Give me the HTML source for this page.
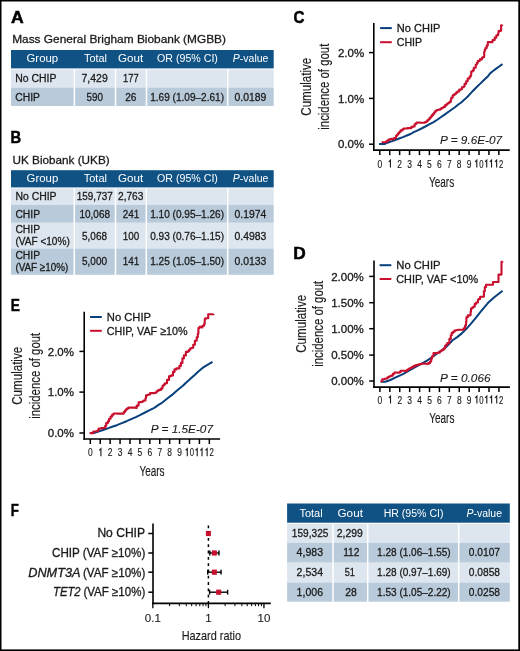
<!DOCTYPE html>
<html><head><meta charset="utf-8"><title>Figure</title>
<style>html,body{margin:0;padding:0;background:#fff;overflow:hidden;width:520px;height:651px;}svg{display:block;will-change:transform;}</style></head>
<body><svg width="520" height="651" viewBox="0 0 520 651" font-family='"Liberation Sans", sans-serif' fill="#1a1a1a">
<rect x="0" y="0" width="520" height="651" fill="#fff"/>
<rect x="0.00" y="0.00" width="520.00" height="1.50" fill="#000"/>
<rect x="0.00" y="0.00" width="1.50" height="651.00" fill="#000"/>
<rect x="518.30" y="0.00" width="1.70" height="651.00" fill="#000"/>
<rect x="0.00" y="649.40" width="520.00" height="1.60" fill="#000"/>
<text x="11.11" y="23.15" font-size="16.3" font-weight="bold" fill="#000" stroke="#000" stroke-width="0.5" textLength="12.70" lengthAdjust="spacingAndGlyphs">A</text>
<text x="10.46" y="143.25" font-size="16.3" font-weight="bold" fill="#000" stroke="#000" stroke-width="0.5" textLength="10.66" lengthAdjust="spacingAndGlyphs">B</text>
<text x="293.43" y="22.55" font-size="16.3" font-weight="bold" fill="#000" stroke="#000" stroke-width="0.5" textLength="10.94" lengthAdjust="spacingAndGlyphs">C</text>
<text x="293.39" y="259.35" font-size="16.3" font-weight="bold" fill="#000" stroke="#000" stroke-width="0.5" textLength="12.48" lengthAdjust="spacingAndGlyphs">D</text>
<text x="10.63" y="311.35" font-size="16.3" font-weight="bold" fill="#000" stroke="#000" stroke-width="0.5" textLength="9.15" lengthAdjust="spacingAndGlyphs">E</text>
<text x="10.67" y="516.05" font-size="16.3" font-weight="bold" fill="#000" stroke="#000" stroke-width="0.5" textLength="8.07" lengthAdjust="spacingAndGlyphs">F</text>
<text x="12.20" y="42.60" font-size="11.8" textLength="213.80" lengthAdjust="spacingAndGlyphs" stroke="#1a1a1a" stroke-width="0.3">Mass General Brigham Biobank (MGBB)</text>
<text x="12.60" y="163.90" font-size="11.8" textLength="97.00" lengthAdjust="spacingAndGlyphs" stroke="#1a1a1a" stroke-width="0.3">UK Biobank (UKB)</text>
<rect x="11.00" y="50.00" width="262.70" height="18.40" fill="#105284"/>
<rect x="11.00" y="69.50" width="62.65" height="18.10" fill="#dde5ee"/>
<rect x="75.15" y="69.50" width="39.60" height="18.10" fill="#dde5ee"/>
<rect x="116.25" y="69.50" width="29.50" height="18.10" fill="#dde5ee"/>
<rect x="147.25" y="69.50" width="79.70" height="18.10" fill="#dde5ee"/>
<rect x="228.45" y="69.50" width="45.25" height="18.10" fill="#dde5ee"/>
<rect x="11.00" y="87.60" width="62.65" height="18.40" fill="#b9cbdb"/>
<rect x="75.15" y="87.60" width="39.60" height="18.40" fill="#b9cbdb"/>
<rect x="116.25" y="87.60" width="29.50" height="18.40" fill="#b9cbdb"/>
<rect x="147.25" y="87.60" width="79.70" height="18.40" fill="#b9cbdb"/>
<rect x="228.45" y="87.60" width="45.25" height="18.40" fill="#b9cbdb"/>
<text x="26.50" y="62.30" font-size="11.7" textLength="31.70" lengthAdjust="spacingAndGlyphs" fill="#fff">Group</text>
<text x="84.00" y="62.30" font-size="11.7" textLength="22.90" lengthAdjust="spacingAndGlyphs" fill="#fff">Total</text>
<text x="118.00" y="62.30" font-size="11.7" textLength="25.20" lengthAdjust="spacingAndGlyphs" fill="#fff">Gout</text>
<text x="157.00" y="62.30" font-size="11.7" textLength="60.90" lengthAdjust="spacingAndGlyphs" fill="#fff">OR (95% CI)</text>
<text x="232.80" y="62.30" font-size="11.7" fill="#fff" textLength="35.60" lengthAdjust="spacingAndGlyphs"><tspan font-style="italic">P</tspan>-value</text>
<text x="15.30" y="82.30" font-size="11.7" textLength="41.20" lengthAdjust="spacingAndGlyphs" stroke="#1a1a1a" stroke-width="0.3">No CHIP</text>
<text x="81.50" y="82.30" font-size="11.7" textLength="26.20" lengthAdjust="spacingAndGlyphs" stroke="#1a1a1a" stroke-width="0.3">7,429</text>
<text x="123.10" y="82.30" font-size="11.7" textLength="15.50" lengthAdjust="spacingAndGlyphs" stroke="#1a1a1a" stroke-width="0.3">177</text>
<text x="15.30" y="100.90" font-size="11.7" textLength="24.70" lengthAdjust="spacingAndGlyphs" stroke="#1a1a1a" stroke-width="0.3">CHIP</text>
<text x="86.60" y="100.90" font-size="11.7" textLength="16.50" lengthAdjust="spacingAndGlyphs" stroke="#1a1a1a" stroke-width="0.3">590</text>
<text x="125.20" y="100.90" font-size="11.7" textLength="11.20" lengthAdjust="spacingAndGlyphs" stroke="#1a1a1a" stroke-width="0.3">26</text>
<text x="150.20" y="100.90" font-size="11.7" textLength="73.80" lengthAdjust="spacingAndGlyphs" stroke="#1a1a1a" stroke-width="0.3">1.69 (1.09–2.61)</text>
<text x="234.50" y="100.90" font-size="11.7" textLength="31.80" lengthAdjust="spacingAndGlyphs" stroke="#1a1a1a" stroke-width="0.3">0.0189</text>
<rect x="11.00" y="170.20" width="262.70" height="17.20" fill="#105284"/>
<rect x="11.00" y="188.40" width="62.55" height="16.40" fill="#dde5ee"/>
<rect x="75.05" y="188.40" width="39.70" height="16.40" fill="#dde5ee"/>
<rect x="116.25" y="188.40" width="29.30" height="16.40" fill="#dde5ee"/>
<rect x="147.05" y="188.40" width="79.90" height="16.40" fill="#dde5ee"/>
<rect x="228.45" y="188.40" width="45.25" height="16.40" fill="#dde5ee"/>
<rect x="11.00" y="204.80" width="62.55" height="18.00" fill="#b9cbdb"/>
<rect x="75.05" y="204.80" width="39.70" height="18.00" fill="#b9cbdb"/>
<rect x="116.25" y="204.80" width="29.30" height="18.00" fill="#b9cbdb"/>
<rect x="147.05" y="204.80" width="79.90" height="18.00" fill="#b9cbdb"/>
<rect x="228.45" y="204.80" width="45.25" height="18.00" fill="#b9cbdb"/>
<rect x="11.00" y="222.80" width="62.55" height="25.80" fill="#dde5ee"/>
<rect x="75.05" y="222.80" width="39.70" height="25.80" fill="#dde5ee"/>
<rect x="116.25" y="222.80" width="29.30" height="25.80" fill="#dde5ee"/>
<rect x="147.05" y="222.80" width="79.90" height="25.80" fill="#dde5ee"/>
<rect x="228.45" y="222.80" width="45.25" height="25.80" fill="#dde5ee"/>
<rect x="11.00" y="248.60" width="62.55" height="26.20" fill="#b9cbdb"/>
<rect x="75.05" y="248.60" width="39.70" height="26.20" fill="#b9cbdb"/>
<rect x="116.25" y="248.60" width="29.30" height="26.20" fill="#b9cbdb"/>
<rect x="147.05" y="248.60" width="79.90" height="26.20" fill="#b9cbdb"/>
<rect x="228.45" y="248.60" width="45.25" height="26.20" fill="#b9cbdb"/>
<text x="26.60" y="181.80" font-size="11.7" textLength="31.70" lengthAdjust="spacingAndGlyphs" fill="#fff">Group</text>
<text x="83.70" y="181.80" font-size="11.7" textLength="23.30" lengthAdjust="spacingAndGlyphs" fill="#fff">Total</text>
<text x="118.00" y="181.80" font-size="11.7" textLength="25.20" lengthAdjust="spacingAndGlyphs" fill="#fff">Gout</text>
<text x="157.00" y="181.80" font-size="11.7" textLength="60.90" lengthAdjust="spacingAndGlyphs" fill="#fff">OR (95% CI)</text>
<text x="232.80" y="181.80" font-size="11.7" fill="#fff" textLength="35.60" lengthAdjust="spacingAndGlyphs"><tspan font-style="italic">P</tspan>-value</text>
<text x="15.40" y="199.90" font-size="11.7" textLength="41.20" lengthAdjust="spacingAndGlyphs" stroke="#1a1a1a" stroke-width="0.3">No CHIP</text>
<text x="76.80" y="199.90" font-size="11.7" textLength="35.90" lengthAdjust="spacingAndGlyphs" stroke="#1a1a1a" stroke-width="0.3">159,737</text>
<text x="118.00" y="199.90" font-size="11.7" textLength="25.40" lengthAdjust="spacingAndGlyphs" stroke="#1a1a1a" stroke-width="0.3">2,763</text>
<text x="15.40" y="217.90" font-size="11.7" textLength="24.70" lengthAdjust="spacingAndGlyphs" stroke="#1a1a1a" stroke-width="0.3">CHIP</text>
<text x="79.50" y="217.90" font-size="11.7" textLength="30.50" lengthAdjust="spacingAndGlyphs" stroke="#1a1a1a" stroke-width="0.3">10,068</text>
<text x="122.70" y="217.90" font-size="11.7" textLength="16.50" lengthAdjust="spacingAndGlyphs" stroke="#1a1a1a" stroke-width="0.3">241</text>
<text x="150.20" y="217.90" font-size="11.7" textLength="73.80" lengthAdjust="spacingAndGlyphs" stroke="#1a1a1a" stroke-width="0.3">1.10 (0.95–1.26)</text>
<text x="234.50" y="217.90" font-size="11.7" textLength="31.80" lengthAdjust="spacingAndGlyphs" stroke="#1a1a1a" stroke-width="0.3">0.1974</text>
<text x="15.40" y="233.20" font-size="11.7" textLength="24.70" lengthAdjust="spacingAndGlyphs" stroke="#1a1a1a" stroke-width="0.3">CHIP</text>
<text x="15.40" y="245.20" font-size="11.7" textLength="54.40" lengthAdjust="spacingAndGlyphs" stroke="#1a1a1a" stroke-width="0.3">(VAF &lt;10%)</text>
<text x="82.00" y="239.80" font-size="11.7" textLength="25.00" lengthAdjust="spacingAndGlyphs" stroke="#1a1a1a" stroke-width="0.3">5,068</text>
<text x="122.70" y="239.80" font-size="11.7" textLength="16.50" lengthAdjust="spacingAndGlyphs" stroke="#1a1a1a" stroke-width="0.3">100</text>
<text x="150.20" y="239.80" font-size="11.7" textLength="73.80" lengthAdjust="spacingAndGlyphs" stroke="#1a1a1a" stroke-width="0.3">0.93 (0.76–1.15)</text>
<text x="234.50" y="239.80" font-size="11.7" textLength="31.80" lengthAdjust="spacingAndGlyphs" stroke="#1a1a1a" stroke-width="0.3">0.4983</text>
<text x="15.40" y="258.90" font-size="11.7" textLength="24.70" lengthAdjust="spacingAndGlyphs" stroke="#1a1a1a" stroke-width="0.3">CHIP</text>
<text x="15.40" y="270.90" font-size="11.7" textLength="52.90" lengthAdjust="spacingAndGlyphs" stroke="#1a1a1a" stroke-width="0.3">(VAF ≥10%)</text>
<text x="82.00" y="265.20" font-size="11.7" textLength="25.00" lengthAdjust="spacingAndGlyphs" stroke="#1a1a1a" stroke-width="0.3">5,000</text>
<text x="122.70" y="265.20" font-size="11.7" textLength="16.50" lengthAdjust="spacingAndGlyphs" stroke="#1a1a1a" stroke-width="0.3">141</text>
<text x="150.20" y="265.20" font-size="11.7" textLength="73.80" lengthAdjust="spacingAndGlyphs" stroke="#1a1a1a" stroke-width="0.3">1.25 (1.05–1.50)</text>
<text x="234.50" y="265.20" font-size="11.7" textLength="31.80" lengthAdjust="spacingAndGlyphs" stroke="#1a1a1a" stroke-width="0.3">0.0133</text>
<rect x="287.10" y="503.50" width="222.70" height="19.20" fill="#105284"/>
<rect x="287.10" y="524.00" width="45.15" height="18.80" fill="#dde5ee"/>
<rect x="333.75" y="524.00" width="33.20" height="18.80" fill="#dde5ee"/>
<rect x="368.45" y="524.00" width="89.50" height="18.80" fill="#dde5ee"/>
<rect x="459.45" y="524.00" width="50.35" height="18.80" fill="#dde5ee"/>
<rect x="287.10" y="542.80" width="45.15" height="19.90" fill="#b9cbdb"/>
<rect x="333.75" y="542.80" width="33.20" height="19.90" fill="#b9cbdb"/>
<rect x="368.45" y="542.80" width="89.50" height="19.90" fill="#b9cbdb"/>
<rect x="459.45" y="542.80" width="50.35" height="19.90" fill="#b9cbdb"/>
<rect x="287.10" y="562.70" width="45.15" height="19.80" fill="#dde5ee"/>
<rect x="333.75" y="562.70" width="33.20" height="19.80" fill="#dde5ee"/>
<rect x="368.45" y="562.70" width="89.50" height="19.80" fill="#dde5ee"/>
<rect x="459.45" y="562.70" width="50.35" height="19.80" fill="#dde5ee"/>
<rect x="287.10" y="582.50" width="45.15" height="19.20" fill="#b9cbdb"/>
<rect x="333.75" y="582.50" width="33.20" height="19.20" fill="#b9cbdb"/>
<rect x="368.45" y="582.50" width="89.50" height="19.20" fill="#b9cbdb"/>
<rect x="459.45" y="582.50" width="50.35" height="19.20" fill="#b9cbdb"/>
<text x="299.40" y="516.90" font-size="11.7" textLength="23.30" lengthAdjust="spacingAndGlyphs" fill="#fff">Total</text>
<text x="337.50" y="516.90" font-size="11.7" textLength="25.40" lengthAdjust="spacingAndGlyphs" fill="#fff">Gout</text>
<text x="383.70" y="516.90" font-size="11.7" textLength="59.80" lengthAdjust="spacingAndGlyphs" fill="#fff">HR (95% CI)</text>
<text x="466.50" y="516.90" font-size="11.7" fill="#fff" textLength="35.50" lengthAdjust="spacingAndGlyphs"><tspan font-style="italic">P</tspan>-value</text>
<text x="291.80" y="536.80" font-size="11.7" textLength="36.60" lengthAdjust="spacingAndGlyphs" stroke="#1a1a1a" stroke-width="0.3">159,325</text>
<text x="336.80" y="536.80" font-size="11.7" textLength="26.10" lengthAdjust="spacingAndGlyphs" stroke="#1a1a1a" stroke-width="0.3">2,299</text>
<text x="296.60" y="556.30" font-size="11.7" textLength="26.40" lengthAdjust="spacingAndGlyphs" stroke="#1a1a1a" stroke-width="0.3">4,983</text>
<text x="343.20" y="556.30" font-size="11.7" textLength="16.30" lengthAdjust="spacingAndGlyphs" stroke="#1a1a1a" stroke-width="0.3">112</text>
<text x="377.10" y="556.30" font-size="11.7" textLength="73.60" lengthAdjust="spacingAndGlyphs" stroke="#1a1a1a" stroke-width="0.3">1.28 (1.06–1.55)</text>
<text x="468.80" y="556.30" font-size="11.7" textLength="31.20" lengthAdjust="spacingAndGlyphs" stroke="#1a1a1a" stroke-width="0.3">0.0107</text>
<text x="296.60" y="575.80" font-size="11.7" textLength="26.40" lengthAdjust="spacingAndGlyphs" stroke="#1a1a1a" stroke-width="0.3">2,534</text>
<text x="344.70" y="575.80" font-size="11.7" textLength="10.10" lengthAdjust="spacingAndGlyphs" stroke="#1a1a1a" stroke-width="0.3">51</text>
<text x="377.10" y="575.80" font-size="11.7" textLength="73.60" lengthAdjust="spacingAndGlyphs" stroke="#1a1a1a" stroke-width="0.3">1.28 (0.97–1.69)</text>
<text x="468.80" y="575.80" font-size="11.7" textLength="31.20" lengthAdjust="spacingAndGlyphs" stroke="#1a1a1a" stroke-width="0.3">0.0858</text>
<text x="296.60" y="595.90" font-size="11.7" textLength="26.40" lengthAdjust="spacingAndGlyphs" stroke="#1a1a1a" stroke-width="0.3">1,006</text>
<text x="345.30" y="595.90" font-size="11.7" textLength="11.60" lengthAdjust="spacingAndGlyphs" stroke="#1a1a1a" stroke-width="0.3">28</text>
<text x="377.10" y="595.90" font-size="11.7" textLength="73.60" lengthAdjust="spacingAndGlyphs" stroke="#1a1a1a" stroke-width="0.3">1.53 (1.05–2.22)</text>
<text x="468.80" y="595.90" font-size="11.7" textLength="31.20" lengthAdjust="spacingAndGlyphs" stroke="#1a1a1a" stroke-width="0.3">0.0258</text>
<polyline points="379.10,144.00 384.50,144.00 387.50,142.70 391.40,141.40 395.20,140.00 399.10,138.50 402.90,137.10 406.80,135.50 410.60,134.00 413.80,132.10 417.70,130.40 421.50,128.50 425.40,126.50 429.20,124.40 433.10,122.30 436.90,120.00 440.80,117.30 444.60,114.60 450.00,110.80 455.00,107.20 458.00,104.80 461.50,102.20 465.00,99.10 468.50,95.70 472.00,91.80 476.00,87.80 480.00,83.90 485.00,79.00 488.00,76.20 490.30,73.20 493.00,71.00 496.20,68.60 499.50,66.30 502.50,64.10" fill="none" stroke="#063f7c" stroke-width="2.0" stroke-linejoin="round" stroke-linecap="butt"/>
<polyline points="381.60,142.20 385.20,142.20 385.20,142.30 386.35,142.30 386.35,141.35 387.50,141.35 387.50,140.40 389.10,140.40 389.10,139.40 391.00,139.40 391.00,138.80 392.90,138.80 392.90,139.10 394.10,139.10 394.10,138.10 396.00,138.10 396.00,135.80 397.15,135.80 397.15,134.45 398.30,134.45 398.30,133.10 399.45,133.10 399.45,131.75 400.60,131.75 400.60,130.40 402.50,130.40 402.50,129.20 403.70,129.20 403.70,128.50 406.00,128.50 406.00,128.50 407.50,128.50 407.50,128.10 409.80,128.10 409.80,128.10 411.40,128.10 411.40,126.90 412.90,126.90 412.90,126.50 414.60,126.50 414.60,124.20 415.75,124.20 415.75,123.35 416.90,123.35 416.90,122.50 420.00,122.50 420.00,122.70 423.80,122.70 423.80,122.70 425.00,122.70 425.00,122.10 426.20,122.10 426.20,121.50 427.35,121.50 427.35,120.35 428.50,120.35 428.50,119.20 429.65,119.20 429.65,117.85 430.80,117.85 430.80,116.50 431.95,116.50 431.95,115.15 433.10,115.15 433.10,113.80 434.25,113.80 434.25,112.30 435.40,112.30 435.40,110.80 436.90,110.80 436.90,110.00 438.05,110.00 438.05,109.80 439.20,109.80 439.20,109.60 440.35,109.60 440.35,108.85 441.50,108.85 441.50,108.10 442.65,108.10 442.65,107.50 443.80,107.50 443.80,106.90 445.00,106.90 445.00,105.40 446.15,105.40 446.15,104.45 447.30,104.45 447.30,103.50 448.45,103.50 448.45,102.70 449.60,102.70 449.60,101.90 450.80,101.90 450.80,100.00 451.20,100.00 451.20,97.70 452.70,97.70 452.70,95.40 453.85,95.40 453.85,94.60 455.00,94.60 455.00,93.80 456.15,93.80 456.15,92.65 457.30,92.65 457.30,91.50 459.20,91.50 459.20,89.60 461.20,89.60 461.20,89.20 461.90,89.20 461.90,87.30 463.80,87.30 463.80,86.20 464.60,86.20 464.60,83.80 466.20,83.80 466.20,81.20 467.70,81.20 467.70,78.50 469.60,78.50 469.60,76.50 470.80,76.50 470.80,75.00 471.20,75.00 471.20,71.50 472.70,71.50 472.70,70.40 473.80,70.40 473.80,67.70 475.70,67.70 475.70,64.80 476.75,64.80 476.75,62.90 477.80,62.90 477.80,61.00 479.80,61.00 479.80,59.40 481.90,59.40 481.90,57.70 482.95,57.70 482.95,57.15 484.00,57.15 484.00,56.60 484.20,56.60 484.20,51.80 484.70,51.80 484.70,49.70 485.40,49.70 485.40,48.00 486.70,48.00 486.70,45.60 487.80,45.60 487.80,42.10 489.90,42.10 489.90,42.10 492.30,42.10 492.30,42.00 492.60,42.00 492.60,40.00 494.70,40.00 494.70,37.60 496.40,37.60 496.40,35.20 498.20,35.20 498.20,33.50 498.50,33.50 498.50,31.10 499.70,31.10 499.70,30.90 500.90,30.90 500.90,30.70 501.10,30.70 501.10,25.20 502.20,25.20 502.20,24.80" fill="none" stroke="#c8102e" stroke-width="2.1" stroke-linejoin="round" stroke-linecap="butt"/>
<line x1="373.80" y1="23.00" x2="373.80" y2="150.90" stroke="#000" stroke-width="1.6"/>
<line x1="373.00" y1="150.10" x2="509.70" y2="150.10" stroke="#000" stroke-width="1.6"/>
<line x1="369.00" y1="52.60" x2="373.80" y2="52.60" stroke="#000" stroke-width="1.5"/>
<text x="364.20" y="56.70" font-size="11.5" text-anchor="end" stroke="#1a1a1a" stroke-width="0.3">2.0%</text>
<line x1="369.00" y1="98.40" x2="373.80" y2="98.40" stroke="#000" stroke-width="1.5"/>
<text x="364.20" y="102.50" font-size="11.5" text-anchor="end" stroke="#1a1a1a" stroke-width="0.3">1.0%</text>
<line x1="369.00" y1="144.20" x2="373.80" y2="144.20" stroke="#000" stroke-width="1.5"/>
<text x="364.20" y="148.30" font-size="11.5" text-anchor="end" stroke="#1a1a1a" stroke-width="0.3">0.0%</text>
<line x1="379.80" y1="150.10" x2="379.80" y2="155.10" stroke="#000" stroke-width="1.5"/>
<text x="377.45" y="167.60" font-size="10.4" textLength="4.70" lengthAdjust="spacingAndGlyphs" stroke="#1a1a1a" stroke-width="0.15">0</text>
<line x1="389.72" y1="150.10" x2="389.72" y2="155.10" stroke="#000" stroke-width="1.5"/>
<path d="M388.72,161.80 L390.42,160.10 L390.42,167.60" fill="none" stroke="#1a1a1a" stroke-width="1.1" stroke-linejoin="miter"/>
<line x1="399.64" y1="150.10" x2="399.64" y2="155.10" stroke="#000" stroke-width="1.5"/>
<text x="397.29" y="167.60" font-size="10.4" textLength="4.70" lengthAdjust="spacingAndGlyphs" stroke="#1a1a1a" stroke-width="0.15">2</text>
<line x1="409.56" y1="150.10" x2="409.56" y2="155.10" stroke="#000" stroke-width="1.5"/>
<text x="407.21" y="167.60" font-size="10.4" textLength="4.70" lengthAdjust="spacingAndGlyphs" stroke="#1a1a1a" stroke-width="0.15">3</text>
<line x1="419.48" y1="150.10" x2="419.48" y2="155.10" stroke="#000" stroke-width="1.5"/>
<text x="417.13" y="167.60" font-size="10.4" textLength="4.70" lengthAdjust="spacingAndGlyphs" stroke="#1a1a1a" stroke-width="0.15">4</text>
<line x1="429.40" y1="150.10" x2="429.40" y2="155.10" stroke="#000" stroke-width="1.5"/>
<text x="427.05" y="167.60" font-size="10.4" textLength="4.70" lengthAdjust="spacingAndGlyphs" stroke="#1a1a1a" stroke-width="0.15">5</text>
<line x1="439.32" y1="150.10" x2="439.32" y2="155.10" stroke="#000" stroke-width="1.5"/>
<text x="436.97" y="167.60" font-size="10.4" textLength="4.70" lengthAdjust="spacingAndGlyphs" stroke="#1a1a1a" stroke-width="0.15">6</text>
<line x1="449.24" y1="150.10" x2="449.24" y2="155.10" stroke="#000" stroke-width="1.5"/>
<text x="446.89" y="167.60" font-size="10.4" textLength="4.70" lengthAdjust="spacingAndGlyphs" stroke="#1a1a1a" stroke-width="0.15">7</text>
<line x1="459.16" y1="150.10" x2="459.16" y2="155.10" stroke="#000" stroke-width="1.5"/>
<text x="456.81" y="167.60" font-size="10.4" textLength="4.70" lengthAdjust="spacingAndGlyphs" stroke="#1a1a1a" stroke-width="0.15">8</text>
<line x1="469.08" y1="150.10" x2="469.08" y2="155.10" stroke="#000" stroke-width="1.5"/>
<text x="466.73" y="167.60" font-size="10.4" textLength="4.70" lengthAdjust="spacingAndGlyphs" stroke="#1a1a1a" stroke-width="0.15">9</text>
<line x1="479.00" y1="150.10" x2="479.00" y2="155.10" stroke="#000" stroke-width="1.5"/>
<path d="M475.10,161.80 L476.80,160.10 L476.80,167.60" fill="none" stroke="#1a1a1a" stroke-width="1.1" stroke-linejoin="miter"/>
<text x="479.15" y="167.60" font-size="10.4" textLength="4.30" lengthAdjust="spacingAndGlyphs" stroke="#1a1a1a" stroke-width="0.15">0</text>
<line x1="488.92" y1="150.10" x2="488.92" y2="155.10" stroke="#000" stroke-width="1.5"/>
<path d="M485.02,161.80 L486.72,160.10 L486.72,167.60" fill="none" stroke="#1a1a1a" stroke-width="1.1" stroke-linejoin="miter"/>
<path d="M489.82,161.80 L491.52,160.10 L491.52,167.60" fill="none" stroke="#1a1a1a" stroke-width="1.1" stroke-linejoin="miter"/>
<line x1="498.84" y1="150.10" x2="498.84" y2="155.10" stroke="#000" stroke-width="1.5"/>
<path d="M494.94,161.80 L496.64,160.10 L496.64,167.60" fill="none" stroke="#1a1a1a" stroke-width="1.1" stroke-linejoin="miter"/>
<text x="498.99" y="167.60" font-size="10.4" textLength="4.30" lengthAdjust="spacingAndGlyphs" stroke="#1a1a1a" stroke-width="0.15">2</text>
<text x="429.00" y="186.90" font-size="14" textLength="25.20" lengthAdjust="spacingAndGlyphs" stroke="#1a1a1a" stroke-width="0.15">Years</text>
<text transform="translate(311.40,86.70) rotate(-90)" font-size="14" text-anchor="middle" textLength="58" lengthAdjust="spacingAndGlyphs" fill="#1a1a1a" stroke="#1a1a1a" stroke-width="0.15">Cumulative</text>
<text transform="translate(328.80,86.70) rotate(-90)" font-size="14" text-anchor="middle" textLength="86" lengthAdjust="spacingAndGlyphs" fill="#1a1a1a" stroke="#1a1a1a" stroke-width="0.15">incidence of gout</text>
<line x1="380.10" y1="28.10" x2="391.80" y2="28.10" stroke="#063f7c" stroke-width="2.0"/>
<line x1="380.10" y1="42.20" x2="391.80" y2="42.20" stroke="#c8102e" stroke-width="2.0"/>
<text x="396.80" y="32.10" font-size="11.2" textLength="43.50" lengthAdjust="spacingAndGlyphs" stroke="#1a1a1a" stroke-width="0.3">No CHIP</text>
<text x="396.80" y="46.30" font-size="11.2" textLength="25.30" lengthAdjust="spacingAndGlyphs" stroke="#1a1a1a" stroke-width="0.3">CHIP</text>
<text x="440.00" y="143.60" font-size="11.3" textLength="62.10" lengthAdjust="spacingAndGlyphs" font-style="italic" stroke="#1a1a1a" stroke-width="0.1">P = 9.6E-07</text>
<polyline points="380.60,381.80 385.20,381.80 388.30,380.80 391.40,379.50 395.20,377.70 399.10,375.90 402.90,374.10 406.80,371.90 410.60,369.60 415.20,367.10 419.70,364.60 423.50,362.70 427.40,360.40 431.20,357.70 435.10,355.00 438.90,352.30 442.80,349.60 446.60,346.50 452.60,340.30 457.20,337.10 461.80,333.40 466.40,328.80 471.00,323.70 475.60,318.20 480.30,312.20 484.90,306.70 488.10,302.80 494.90,296.80 502.60,290.80" fill="none" stroke="#063f7c" stroke-width="2.0" stroke-linejoin="round" stroke-linecap="butt"/>
<polyline points="380.60,381.20 382.20,381.20 382.20,379.20 384.50,379.20 384.50,378.80 386.00,378.80 386.00,378.50 387.50,378.50 387.50,377.30 389.10,377.30 389.10,376.50 390.25,376.50 390.25,376.05 391.40,376.05 391.40,375.60 392.90,375.60 392.90,373.80 394.50,373.80 394.50,372.50 397.50,372.50 397.50,372.70 399.10,372.70 399.10,372.30 400.60,372.30 400.60,370.80 402.20,370.80 402.20,370.80 405.20,370.80 405.20,371.20 406.80,371.20 406.80,370.00 407.95,370.00 407.95,369.25 409.10,369.25 409.10,368.50 410.65,368.50 410.65,367.70 412.20,367.70 412.20,366.90 413.65,366.90 413.65,366.15 415.10,366.15 415.10,365.40 416.65,365.40 416.65,364.95 418.20,364.95 418.20,364.50 419.70,364.50 419.70,364.15 421.20,364.15 421.20,363.80 424.30,363.80 424.30,363.50 425.85,363.50 425.85,363.75 427.40,363.75 427.40,364.00 428.50,364.00 428.50,363.10 430.10,363.10 430.10,361.50 431.20,361.50 431.20,358.80 432.00,358.80 432.00,356.20 433.50,356.20 433.50,353.10 435.80,353.10 435.80,353.10 437.00,353.10 437.00,352.90 438.20,352.90 438.20,352.70 439.70,352.70 439.70,351.50 440.85,351.50 440.85,350.75 442.00,350.75 442.00,350.00 443.50,350.00 443.50,348.50 445.10,348.50 445.10,345.80 446.25,345.80 446.25,344.45 447.40,344.45 447.40,343.10 449.40,343.10 449.40,338.90 450.80,338.90 450.80,335.20 451.70,335.20 451.70,332.90 453.10,332.90 453.10,331.75 454.50,331.75 454.50,330.60 455.70,330.60 455.70,330.30 456.90,330.30 456.90,330.00 458.10,330.00 458.10,329.70 461.80,329.70 461.80,329.70 463.70,329.70 463.70,328.30 465.10,328.30 465.10,325.60 466.00,325.60 466.00,321.90 466.40,321.90 466.40,317.30 467.80,317.30 467.80,315.40 470.10,315.40 470.10,315.00 470.60,315.00 470.60,311.70 471.00,311.70 471.00,308.50 472.15,308.50 472.15,307.60 473.30,307.60 473.30,306.70 474.70,306.70 474.70,303.90 476.10,303.90 476.10,302.50 478.00,302.50 478.00,300.20 478.40,300.20 478.40,299.00 480.10,299.00 480.10,296.80 483.90,296.80 483.90,296.80 483.90,296.80 483.90,291.30 484.80,291.30 484.80,287.10 486.00,287.10 486.00,284.80 492.80,284.80 492.80,284.80 493.00,284.80 493.00,282.00 498.30,282.00 498.30,281.90 498.50,281.90 498.50,274.60 501.20,274.60 501.20,274.40 501.50,274.40 501.50,261.80 502.60,261.80 502.60,261.60" fill="none" stroke="#c8102e" stroke-width="2.1" stroke-linejoin="round" stroke-linecap="butt"/>
<line x1="374.00" y1="260.60" x2="374.00" y2="387.90" stroke="#000" stroke-width="1.6"/>
<line x1="373.20" y1="387.10" x2="509.90" y2="387.10" stroke="#000" stroke-width="1.6"/>
<line x1="369.20" y1="276.40" x2="374.00" y2="276.40" stroke="#000" stroke-width="1.5"/>
<text x="363.80" y="280.50" font-size="11.5" text-anchor="end" stroke="#1a1a1a" stroke-width="0.3">2.00%</text>
<line x1="369.20" y1="302.70" x2="374.00" y2="302.70" stroke="#000" stroke-width="1.5"/>
<text x="363.80" y="306.80" font-size="11.5" text-anchor="end" stroke="#1a1a1a" stroke-width="0.3">1.50%</text>
<line x1="369.20" y1="328.70" x2="374.00" y2="328.70" stroke="#000" stroke-width="1.5"/>
<text x="363.80" y="332.80" font-size="11.5" text-anchor="end" stroke="#1a1a1a" stroke-width="0.3">1.00%</text>
<line x1="369.20" y1="355.10" x2="374.00" y2="355.10" stroke="#000" stroke-width="1.5"/>
<text x="363.80" y="359.20" font-size="11.5" text-anchor="end" stroke="#1a1a1a" stroke-width="0.3">0.50%</text>
<line x1="369.20" y1="381.00" x2="374.00" y2="381.00" stroke="#000" stroke-width="1.5"/>
<text x="363.80" y="385.10" font-size="11.5" text-anchor="end" stroke="#1a1a1a" stroke-width="0.3">0.00%</text>
<line x1="379.90" y1="387.10" x2="379.90" y2="392.10" stroke="#000" stroke-width="1.5"/>
<text x="377.55" y="403.60" font-size="10.4" textLength="4.70" lengthAdjust="spacingAndGlyphs" stroke="#1a1a1a" stroke-width="0.15">0</text>
<line x1="389.82" y1="387.10" x2="389.82" y2="392.10" stroke="#000" stroke-width="1.5"/>
<path d="M388.82,397.80 L390.52,396.10 L390.52,403.60" fill="none" stroke="#1a1a1a" stroke-width="1.1" stroke-linejoin="miter"/>
<line x1="399.74" y1="387.10" x2="399.74" y2="392.10" stroke="#000" stroke-width="1.5"/>
<text x="397.39" y="403.60" font-size="10.4" textLength="4.70" lengthAdjust="spacingAndGlyphs" stroke="#1a1a1a" stroke-width="0.15">2</text>
<line x1="409.66" y1="387.10" x2="409.66" y2="392.10" stroke="#000" stroke-width="1.5"/>
<text x="407.31" y="403.60" font-size="10.4" textLength="4.70" lengthAdjust="spacingAndGlyphs" stroke="#1a1a1a" stroke-width="0.15">3</text>
<line x1="419.58" y1="387.10" x2="419.58" y2="392.10" stroke="#000" stroke-width="1.5"/>
<text x="417.23" y="403.60" font-size="10.4" textLength="4.70" lengthAdjust="spacingAndGlyphs" stroke="#1a1a1a" stroke-width="0.15">4</text>
<line x1="429.50" y1="387.10" x2="429.50" y2="392.10" stroke="#000" stroke-width="1.5"/>
<text x="427.15" y="403.60" font-size="10.4" textLength="4.70" lengthAdjust="spacingAndGlyphs" stroke="#1a1a1a" stroke-width="0.15">5</text>
<line x1="439.42" y1="387.10" x2="439.42" y2="392.10" stroke="#000" stroke-width="1.5"/>
<text x="437.07" y="403.60" font-size="10.4" textLength="4.70" lengthAdjust="spacingAndGlyphs" stroke="#1a1a1a" stroke-width="0.15">6</text>
<line x1="449.34" y1="387.10" x2="449.34" y2="392.10" stroke="#000" stroke-width="1.5"/>
<text x="446.99" y="403.60" font-size="10.4" textLength="4.70" lengthAdjust="spacingAndGlyphs" stroke="#1a1a1a" stroke-width="0.15">7</text>
<line x1="459.26" y1="387.10" x2="459.26" y2="392.10" stroke="#000" stroke-width="1.5"/>
<text x="456.91" y="403.60" font-size="10.4" textLength="4.70" lengthAdjust="spacingAndGlyphs" stroke="#1a1a1a" stroke-width="0.15">8</text>
<line x1="469.18" y1="387.10" x2="469.18" y2="392.10" stroke="#000" stroke-width="1.5"/>
<text x="466.83" y="403.60" font-size="10.4" textLength="4.70" lengthAdjust="spacingAndGlyphs" stroke="#1a1a1a" stroke-width="0.15">9</text>
<line x1="479.10" y1="387.10" x2="479.10" y2="392.10" stroke="#000" stroke-width="1.5"/>
<path d="M475.20,397.80 L476.90,396.10 L476.90,403.60" fill="none" stroke="#1a1a1a" stroke-width="1.1" stroke-linejoin="miter"/>
<text x="479.25" y="403.60" font-size="10.4" textLength="4.30" lengthAdjust="spacingAndGlyphs" stroke="#1a1a1a" stroke-width="0.15">0</text>
<line x1="489.02" y1="387.10" x2="489.02" y2="392.10" stroke="#000" stroke-width="1.5"/>
<path d="M485.12,397.80 L486.82,396.10 L486.82,403.60" fill="none" stroke="#1a1a1a" stroke-width="1.1" stroke-linejoin="miter"/>
<path d="M489.92,397.80 L491.62,396.10 L491.62,403.60" fill="none" stroke="#1a1a1a" stroke-width="1.1" stroke-linejoin="miter"/>
<line x1="498.94" y1="387.10" x2="498.94" y2="392.10" stroke="#000" stroke-width="1.5"/>
<path d="M495.04,397.80 L496.74,396.10 L496.74,403.60" fill="none" stroke="#1a1a1a" stroke-width="1.1" stroke-linejoin="miter"/>
<text x="499.09" y="403.60" font-size="10.4" textLength="4.30" lengthAdjust="spacingAndGlyphs" stroke="#1a1a1a" stroke-width="0.15">2</text>
<text x="429.20" y="423.10" font-size="14" textLength="25.20" lengthAdjust="spacingAndGlyphs" stroke="#1a1a1a" stroke-width="0.15">Years</text>
<text transform="translate(305.50,323.80) rotate(-90)" font-size="14" text-anchor="middle" textLength="58" lengthAdjust="spacingAndGlyphs" fill="#1a1a1a" stroke="#1a1a1a" stroke-width="0.15">Cumulative</text>
<text transform="translate(323.00,323.80) rotate(-90)" font-size="14" text-anchor="middle" textLength="86" lengthAdjust="spacingAndGlyphs" fill="#1a1a1a" stroke="#1a1a1a" stroke-width="0.15">incidence of gout</text>
<line x1="379.60" y1="265.20" x2="391.30" y2="265.20" stroke="#063f7c" stroke-width="2.0"/>
<line x1="379.60" y1="279.00" x2="391.30" y2="279.00" stroke="#c8102e" stroke-width="2.0"/>
<text x="396.30" y="269.20" font-size="11.2" textLength="44.20" lengthAdjust="spacingAndGlyphs" stroke="#1a1a1a" stroke-width="0.3">No CHIP</text>
<text x="396.30" y="283.10" font-size="11.2" textLength="81.80" lengthAdjust="spacingAndGlyphs" stroke="#1a1a1a" stroke-width="0.3">CHIP, VAF &lt;10%</text>
<text x="440.00" y="381.80" font-size="11.3" textLength="50.60" lengthAdjust="spacingAndGlyphs" font-style="italic" stroke="#1a1a1a" stroke-width="0.1">P = 0.066</text>
<polyline points="90.00,433.10 93.70,433.10 97.50,431.90 101.40,430.50 105.20,429.20 109.10,427.90 112.90,426.50 116.80,425.20 120.60,423.60 126.60,421.20 131.20,419.20 135.80,417.10 140.40,414.80 145.00,412.50 149.60,410.20 154.30,407.90 158.90,404.60 162.00,402.80 167.00,398.80 172.00,394.90 177.90,389.80 182.90,385.80 186.00,382.70 189.00,380.10 191.80,377.50 194.70,374.90 197.50,372.30 200.40,369.70 203.30,367.40 206.20,365.60 209.10,363.90 212.50,361.80" fill="none" stroke="#063f7c" stroke-width="2.0" stroke-linejoin="round" stroke-linecap="butt"/>
<polyline points="89.60,433.10 92.20,433.10 92.20,433.10 93.30,433.10 93.30,431.50 96.00,431.50 96.00,431.30 97.90,431.30 97.90,430.00 98.70,430.00 98.70,428.50 101.40,428.50 101.40,428.10 104.10,428.10 104.10,427.90 105.20,427.90 105.20,425.80 106.20,425.80 106.20,423.10 107.90,423.10 107.90,421.20 109.10,421.20 109.10,418.80 110.60,418.80 110.60,416.50 112.20,416.50 112.20,414.60 113.70,414.60 113.70,413.50 116.80,413.50 116.80,413.60 122.20,413.60 122.20,413.60 123.80,413.60 123.80,412.00 124.95,412.00 124.95,410.60 126.10,410.60 126.10,409.20 127.30,409.20 127.30,408.40 128.50,408.40 128.50,407.60 132.10,407.60 132.10,407.60 135.80,407.60 135.80,407.90 136.70,407.90 136.70,405.60 138.60,405.60 138.60,402.30 140.00,402.30 140.00,402.10 141.40,402.10 141.40,401.90 142.55,401.90 142.55,401.20 143.70,401.20 143.70,400.50 145.50,400.50 145.50,398.20 146.00,398.20 146.00,395.40 147.15,395.40 147.15,394.95 148.30,394.95 148.30,394.50 150.10,394.50 150.10,393.10 153.30,393.10 153.30,393.10 154.45,393.10 154.45,392.85 155.60,392.85 155.60,392.60 156.60,392.60 156.60,391.30 157.75,391.30 157.75,390.60 158.90,390.60 158.90,389.90 161.00,389.90 161.00,388.60 162.50,388.60 162.50,385.80 163.75,385.80 163.75,384.55 165.00,384.55 165.00,383.30 167.00,383.30 167.00,379.90 169.00,379.90 169.00,376.40 170.25,376.40 170.25,375.90 171.50,375.90 171.50,375.40 173.00,375.40 173.00,371.90 174.50,371.90 174.50,369.40 176.40,369.40 176.40,368.40 178.40,368.40 178.40,368.40 179.40,368.40 179.40,365.90 180.90,365.90 180.90,362.90 182.40,362.90 182.40,358.40 183.90,358.40 183.90,355.40 185.90,355.40 185.90,351.90 188.00,351.90 188.00,351.10 189.15,351.10 189.15,349.70 190.30,349.70 190.30,348.30 191.45,348.30 191.45,348.00 192.60,348.00 192.60,347.70 193.20,347.70 193.20,344.80 194.90,344.80 194.90,340.80 196.70,340.80 196.70,337.30 197.80,337.30 197.80,333.80 198.40,333.80 198.40,328.10 199.50,328.10 199.50,326.90 200.65,326.90 200.65,327.20 201.80,327.20 201.80,327.50 202.40,327.50 202.40,325.80 204.10,325.80 204.10,324.00 204.70,324.00 204.70,319.40 205.30,319.40 205.30,318.30 208.20,318.30 208.20,318.30 208.20,318.30 208.20,314.20 213.60,314.20 213.60,314.00" fill="none" stroke="#c8102e" stroke-width="2.1" stroke-linejoin="round" stroke-linecap="butt"/>
<line x1="84.20" y1="311.80" x2="84.20" y2="439.80" stroke="#000" stroke-width="1.6"/>
<line x1="83.40" y1="439.00" x2="220.10" y2="439.00" stroke="#000" stroke-width="1.6"/>
<line x1="79.40" y1="351.40" x2="84.20" y2="351.40" stroke="#000" stroke-width="1.5"/>
<text x="74.00" y="355.50" font-size="11.5" text-anchor="end" stroke="#1a1a1a" stroke-width="0.3">2.0%</text>
<line x1="79.40" y1="392.10" x2="84.20" y2="392.10" stroke="#000" stroke-width="1.5"/>
<text x="74.00" y="396.20" font-size="11.5" text-anchor="end" stroke="#1a1a1a" stroke-width="0.3">1.0%</text>
<line x1="79.40" y1="433.00" x2="84.20" y2="433.00" stroke="#000" stroke-width="1.5"/>
<text x="74.00" y="437.10" font-size="11.5" text-anchor="end" stroke="#1a1a1a" stroke-width="0.3">0.0%</text>
<line x1="90.30" y1="439.00" x2="90.30" y2="444.00" stroke="#000" stroke-width="1.5"/>
<text x="87.95" y="456.20" font-size="10.4" textLength="4.70" lengthAdjust="spacingAndGlyphs" stroke="#1a1a1a" stroke-width="0.15">0</text>
<line x1="100.22" y1="439.00" x2="100.22" y2="444.00" stroke="#000" stroke-width="1.5"/>
<path d="M99.22,450.40 L100.92,448.70 L100.92,456.20" fill="none" stroke="#1a1a1a" stroke-width="1.1" stroke-linejoin="miter"/>
<line x1="110.14" y1="439.00" x2="110.14" y2="444.00" stroke="#000" stroke-width="1.5"/>
<text x="107.79" y="456.20" font-size="10.4" textLength="4.70" lengthAdjust="spacingAndGlyphs" stroke="#1a1a1a" stroke-width="0.15">2</text>
<line x1="120.06" y1="439.00" x2="120.06" y2="444.00" stroke="#000" stroke-width="1.5"/>
<text x="117.71" y="456.20" font-size="10.4" textLength="4.70" lengthAdjust="spacingAndGlyphs" stroke="#1a1a1a" stroke-width="0.15">3</text>
<line x1="129.98" y1="439.00" x2="129.98" y2="444.00" stroke="#000" stroke-width="1.5"/>
<text x="127.63" y="456.20" font-size="10.4" textLength="4.70" lengthAdjust="spacingAndGlyphs" stroke="#1a1a1a" stroke-width="0.15">4</text>
<line x1="139.90" y1="439.00" x2="139.90" y2="444.00" stroke="#000" stroke-width="1.5"/>
<text x="137.55" y="456.20" font-size="10.4" textLength="4.70" lengthAdjust="spacingAndGlyphs" stroke="#1a1a1a" stroke-width="0.15">5</text>
<line x1="149.82" y1="439.00" x2="149.82" y2="444.00" stroke="#000" stroke-width="1.5"/>
<text x="147.47" y="456.20" font-size="10.4" textLength="4.70" lengthAdjust="spacingAndGlyphs" stroke="#1a1a1a" stroke-width="0.15">6</text>
<line x1="159.74" y1="439.00" x2="159.74" y2="444.00" stroke="#000" stroke-width="1.5"/>
<text x="157.39" y="456.20" font-size="10.4" textLength="4.70" lengthAdjust="spacingAndGlyphs" stroke="#1a1a1a" stroke-width="0.15">7</text>
<line x1="169.66" y1="439.00" x2="169.66" y2="444.00" stroke="#000" stroke-width="1.5"/>
<text x="167.31" y="456.20" font-size="10.4" textLength="4.70" lengthAdjust="spacingAndGlyphs" stroke="#1a1a1a" stroke-width="0.15">8</text>
<line x1="179.58" y1="439.00" x2="179.58" y2="444.00" stroke="#000" stroke-width="1.5"/>
<text x="177.23" y="456.20" font-size="10.4" textLength="4.70" lengthAdjust="spacingAndGlyphs" stroke="#1a1a1a" stroke-width="0.15">9</text>
<line x1="189.50" y1="439.00" x2="189.50" y2="444.00" stroke="#000" stroke-width="1.5"/>
<path d="M185.60,450.40 L187.30,448.70 L187.30,456.20" fill="none" stroke="#1a1a1a" stroke-width="1.1" stroke-linejoin="miter"/>
<text x="189.65" y="456.20" font-size="10.4" textLength="4.30" lengthAdjust="spacingAndGlyphs" stroke="#1a1a1a" stroke-width="0.15">0</text>
<line x1="199.42" y1="439.00" x2="199.42" y2="444.00" stroke="#000" stroke-width="1.5"/>
<path d="M195.52,450.40 L197.22,448.70 L197.22,456.20" fill="none" stroke="#1a1a1a" stroke-width="1.1" stroke-linejoin="miter"/>
<path d="M200.32,450.40 L202.02,448.70 L202.02,456.20" fill="none" stroke="#1a1a1a" stroke-width="1.1" stroke-linejoin="miter"/>
<line x1="209.34" y1="439.00" x2="209.34" y2="444.00" stroke="#000" stroke-width="1.5"/>
<path d="M205.44,450.40 L207.14,448.70 L207.14,456.20" fill="none" stroke="#1a1a1a" stroke-width="1.1" stroke-linejoin="miter"/>
<text x="209.49" y="456.20" font-size="10.4" textLength="4.30" lengthAdjust="spacingAndGlyphs" stroke="#1a1a1a" stroke-width="0.15">2</text>
<text x="139.40" y="476.30" font-size="14" textLength="25.20" lengthAdjust="spacingAndGlyphs" stroke="#1a1a1a" stroke-width="0.15">Years</text>
<text transform="translate(22.20,375.80) rotate(-90)" font-size="14" text-anchor="middle" textLength="58" lengthAdjust="spacingAndGlyphs" fill="#1a1a1a" stroke="#1a1a1a" stroke-width="0.15">Cumulative</text>
<text transform="translate(39.50,375.80) rotate(-90)" font-size="14" text-anchor="middle" textLength="86" lengthAdjust="spacingAndGlyphs" fill="#1a1a1a" stroke="#1a1a1a" stroke-width="0.15">incidence of gout</text>
<line x1="90.10" y1="317.00" x2="101.80" y2="317.00" stroke="#063f7c" stroke-width="2.0"/>
<line x1="90.10" y1="330.80" x2="101.80" y2="330.80" stroke="#c8102e" stroke-width="2.0"/>
<text x="106.80" y="321.00" font-size="11.2" textLength="44.20" lengthAdjust="spacingAndGlyphs" stroke="#1a1a1a" stroke-width="0.3">No CHIP</text>
<text x="106.80" y="334.90" font-size="11.2" textLength="80.80" lengthAdjust="spacingAndGlyphs" stroke="#1a1a1a" stroke-width="0.3">CHIP, VAF ≥10%</text>
<text x="150.80" y="433.00" font-size="11.3" textLength="62.20" lengthAdjust="spacingAndGlyphs" font-style="italic" stroke="#1a1a1a" stroke-width="0.1">P = 1.5E-07</text>
<text x="97.40" y="537.10" font-size="12" textLength="47.60" lengthAdjust="spacingAndGlyphs" stroke="#1a1a1a" stroke-width="0.3">No CHIP</text>
<text x="52.00" y="557.00" font-size="12" textLength="93.30" lengthAdjust="spacingAndGlyphs" stroke="#1a1a1a" stroke-width="0.3">CHIP (VAF ≥10%)</text>
<text x="83.00" y="576.50" font-size="12" textLength="62.30" lengthAdjust="spacingAndGlyphs" stroke="#1a1a1a" stroke-width="0.3">(VAF ≥10%)</text>
<text x="28.20" y="576.50" font-size="12" textLength="52.40" lengthAdjust="spacingAndGlyphs" font-style="italic" stroke="#1a1a1a" stroke-width="0.3">DNMT3A</text>
<text x="83.40" y="595.50" font-size="12" textLength="61.90" lengthAdjust="spacingAndGlyphs" stroke="#1a1a1a" stroke-width="0.3">(VAF ≥10%)</text>
<text x="53.00" y="595.50" font-size="12" textLength="27.60" lengthAdjust="spacingAndGlyphs" font-style="italic" stroke="#1a1a1a" stroke-width="0.3">TET2</text>
<line x1="208.40" y1="525.40" x2="208.40" y2="603.00" stroke="#000" stroke-width="1.5" stroke-dasharray="2.8 3.5"/>
<line x1="153.00" y1="523.50" x2="153.00" y2="604.20" stroke="#000" stroke-width="1.6"/>
<line x1="152.20" y1="603.40" x2="270.80" y2="603.40" stroke="#000" stroke-width="1.6"/>
<line x1="148.30" y1="533.50" x2="153.00" y2="533.50" stroke="#000" stroke-width="1.5"/>
<line x1="148.30" y1="553.00" x2="153.00" y2="553.00" stroke="#000" stroke-width="1.5"/>
<line x1="148.30" y1="572.20" x2="153.00" y2="572.20" stroke="#000" stroke-width="1.5"/>
<line x1="148.30" y1="592.20" x2="153.00" y2="592.20" stroke="#000" stroke-width="1.5"/>
<line x1="152.85" y1="603.40" x2="152.85" y2="608.20" stroke="#000" stroke-width="1.3"/>
<line x1="208.40" y1="603.40" x2="208.40" y2="608.20" stroke="#000" stroke-width="1.3"/>
<line x1="263.95" y1="603.40" x2="263.95" y2="608.20" stroke="#000" stroke-width="1.3"/>
<line x1="169.57" y1="603.40" x2="169.57" y2="606.20" stroke="#000" stroke-width="1.0"/>
<line x1="179.35" y1="603.40" x2="179.35" y2="606.20" stroke="#000" stroke-width="1.0"/>
<line x1="186.29" y1="603.40" x2="186.29" y2="606.20" stroke="#000" stroke-width="1.0"/>
<line x1="191.68" y1="603.40" x2="191.68" y2="606.20" stroke="#000" stroke-width="1.0"/>
<line x1="196.08" y1="603.40" x2="196.08" y2="606.20" stroke="#000" stroke-width="1.0"/>
<line x1="199.80" y1="603.40" x2="199.80" y2="606.20" stroke="#000" stroke-width="1.0"/>
<line x1="203.02" y1="603.40" x2="203.02" y2="606.20" stroke="#000" stroke-width="1.0"/>
<line x1="205.86" y1="603.40" x2="205.86" y2="606.20" stroke="#000" stroke-width="1.0"/>
<line x1="225.12" y1="603.40" x2="225.12" y2="606.20" stroke="#000" stroke-width="1.0"/>
<line x1="234.90" y1="603.40" x2="234.90" y2="606.20" stroke="#000" stroke-width="1.0"/>
<line x1="241.84" y1="603.40" x2="241.84" y2="606.20" stroke="#000" stroke-width="1.0"/>
<line x1="247.23" y1="603.40" x2="247.23" y2="606.20" stroke="#000" stroke-width="1.0"/>
<line x1="251.63" y1="603.40" x2="251.63" y2="606.20" stroke="#000" stroke-width="1.0"/>
<line x1="255.35" y1="603.40" x2="255.35" y2="606.20" stroke="#000" stroke-width="1.0"/>
<line x1="258.57" y1="603.40" x2="258.57" y2="606.20" stroke="#000" stroke-width="1.0"/>
<line x1="261.41" y1="603.40" x2="261.41" y2="606.20" stroke="#000" stroke-width="1.0"/>
<text x="152.85" y="621.70" font-size="11.5" text-anchor="middle" stroke="#1a1a1a" stroke-width="0.1">0.1</text>
<text x="208.40" y="621.70" font-size="11.5" text-anchor="middle" stroke="#1a1a1a" stroke-width="0.1">1</text>
<text x="263.95" y="621.70" font-size="11.5" text-anchor="middle" stroke="#1a1a1a" stroke-width="0.1">10</text>
<text x="181.70" y="639.70" font-size="13.2" textLength="59.30" lengthAdjust="spacingAndGlyphs" stroke="#1a1a1a" stroke-width="0.15">Hazard ratio</text>
<rect x="205.90" y="530.90" width="5.00" height="5.20" fill="#c8102e"/>
<line x1="209.81" y1="553.00" x2="218.97" y2="553.00" stroke="#000" stroke-width="1.4"/>
<line x1="209.81" y1="550.60" x2="209.81" y2="555.40" stroke="#000" stroke-width="1.4"/>
<line x1="218.97" y1="550.60" x2="218.97" y2="555.40" stroke="#000" stroke-width="1.4"/>
<rect x="211.86" y="550.40" width="5.00" height="5.20" fill="#c8102e"/>
<line x1="207.67" y1="572.20" x2="221.06" y2="572.20" stroke="#000" stroke-width="1.4"/>
<line x1="207.67" y1="569.80" x2="207.67" y2="574.60" stroke="#000" stroke-width="1.4"/>
<line x1="221.06" y1="569.80" x2="221.06" y2="574.60" stroke="#000" stroke-width="1.4"/>
<rect x="211.86" y="569.60" width="5.00" height="5.20" fill="#c8102e"/>
<line x1="209.58" y1="592.20" x2="227.64" y2="592.20" stroke="#000" stroke-width="1.4"/>
<line x1="209.58" y1="589.80" x2="209.58" y2="594.60" stroke="#000" stroke-width="1.4"/>
<line x1="227.64" y1="589.80" x2="227.64" y2="594.60" stroke="#000" stroke-width="1.4"/>
<rect x="216.16" y="589.60" width="5.00" height="5.20" fill="#c8102e"/>
</svg></body></html>
